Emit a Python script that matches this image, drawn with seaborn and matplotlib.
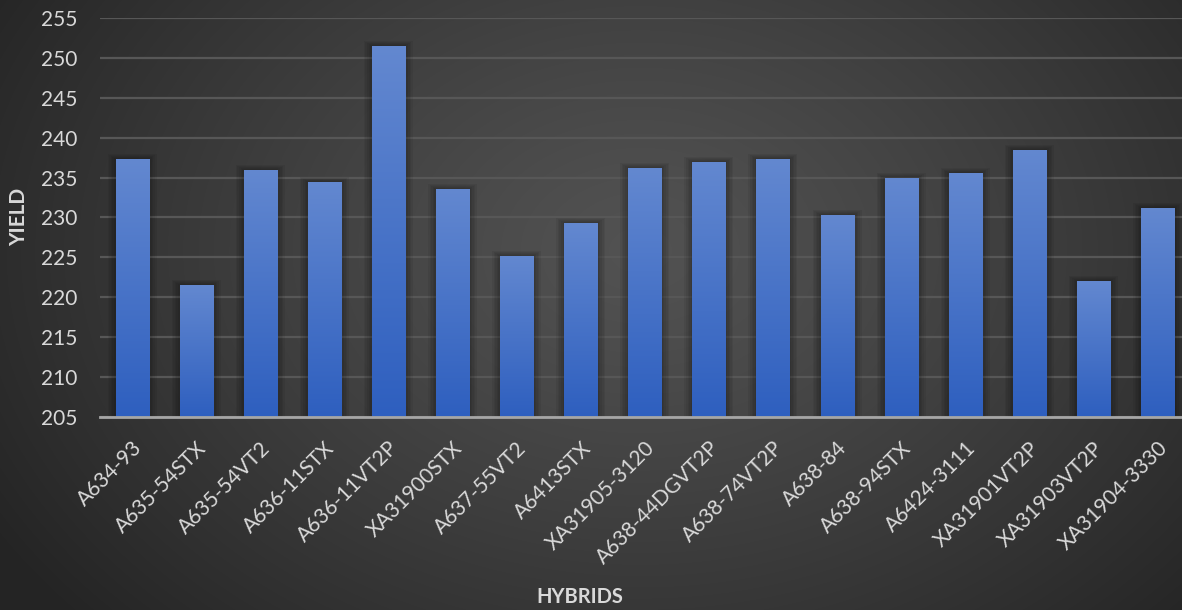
import numpy as np
import pandas as pd
import matplotlib
matplotlib.use('Agg')
import matplotlib.pyplot as plt
from matplotlib.patches import Rectangle
import seaborn as sns

# data
hybrids = ['A634-93', 'A635-54STX', 'A635-54VT2', 'A636-11STX', 'A636-11VT2P',
           'XA31900STX', 'A637-55VT2', 'A6413STX', 'XA31905-3120', 'A638-44DGVT2P',
           'A638-74VT2P', 'A638-84', 'A638-94STX', 'A6424-3111', 'XA31901VT2P',
           'XA31903VT2P', 'XA31904-3330']
yields = [237.3, 221.5, 236.0, 234.5, 251.5, 233.6, 225.2, 229.3, 236.2, 237.0,
          237.3, 230.3, 235.0, 235.6, 238.5, 222.0, 231.2]
y_ticks = list(range(205, 256, 5))

df = pd.DataFrame({'hybrid': hybrids, 'yield': yields})

sns.set_theme(style='dark')
plt.rcParams['font.family'] = ['Lato', 'DejaVu Sans']

W, H = 1182, 610
fig = plt.figure(figsize=(W / 100, H / 100), dpi=100)

# radial dark background
bg = fig.add_axes([0, 0, 1, 1], zorder=-10)
yy, xx = np.mgrid[0:H, 0:W]
r = np.sqrt(((xx - 640) / 760) ** 2 + ((yy - 250) / 560) ** 2)
shade = np.clip(r, 0, 1)
c_in, c_out = np.array([0x52, 0x52, 0x52]), np.array([0x24, 0x24, 0x24])
img = (c_in + (c_out - c_in) * shade[..., None] ** 1.2) / 255
bg.imshow(img, extent=[0, W, H, 0], aspect='auto')
bg.axis('off')

# plot area (the right edge of the original chart is cut off)
ax = fig.add_axes([100 / W, 1 - 417 / H, 1 - 100 / W, (417 - 18) / H])
ax.patch.set_alpha(0)

sns.barplot(data=df, x='hybrid', y='yield', ax=ax, width=0.515,
            color='#4a76c8', saturation=1, zorder=3)

xmax = (W - 132.5) / 64.06

# gradient fill + soft shadow on each bar
grad = np.linspace(0, 1, 256)[:, None]
top_c, bot_c = np.array([0x63, 0x88, 0xd0]), np.array([0x2e, 0x5f, 0xbf])
grad_img = (top_c + (bot_c - top_c) * grad[..., None]) / 255
px_x, px_y = 1 / 64.06, 1 / 7.98
for p in list(ax.patches):
    x0, w, h = p.get_x(), p.get_width(), p.get_height()
    for k in range(1, 6):
        ax.add_patch(Rectangle((x0 - k * 1.6 * px_x, 205), w + 2 * k * 1.6 * px_x,
                               h - 205 + k * 1.0 * px_y, facecolor='black',
                               edgecolor='none', alpha=0.06, zorder=2))
    im = ax.imshow(grad_img, extent=[x0, x0 + w, 205, h], aspect='auto', zorder=4)
    im.set_clip_path(p)
    p.set_alpha(0)

ax.set_xlim(-0.5, xmax)
ax.set_ylim(205, 255)
ax.set_yticks(y_ticks)

ax.yaxis.grid(True, color='#575757', lw=1.6)
ax.xaxis.grid(False)
ax.set_axisbelow(True)
for s in ['top', 'left', 'right']:
    ax.spines[s].set_visible(False)
ax.spines['bottom'].set_color('#a6a6a6')
ax.spines['bottom'].set_linewidth(2)
ax.spines['bottom'].set_zorder(6)

ax.tick_params(axis='y', colors='#d9d9d9', labelsize=15, length=0, pad=16)
ax.tick_params(axis='x', colors='#d9d9d9', labelsize=15, length=0, pad=15)
for lbl in ax.get_xticklabels():
    lbl.set_rotation(45)
    lbl.set_ha('right')
    lbl.set_va('top')
    lbl.set_rotation_mode('anchor')
ax.set_xlabel('')
ax.set_ylabel('')

fig.text(19 / W, 1 - 217 / H, 'YIELD', rotation=90, color='#d9d9d9',
         fontsize=15, fontweight='bold', ha='center', va='center')
fig.text(580 / W, 1 - 597 / H, 'HYBRIDS', color='#d9d9d9',
         fontsize=14.5, fontweight='bold', ha='center', va='center')

fig.savefig('out.png', dpi=100)
